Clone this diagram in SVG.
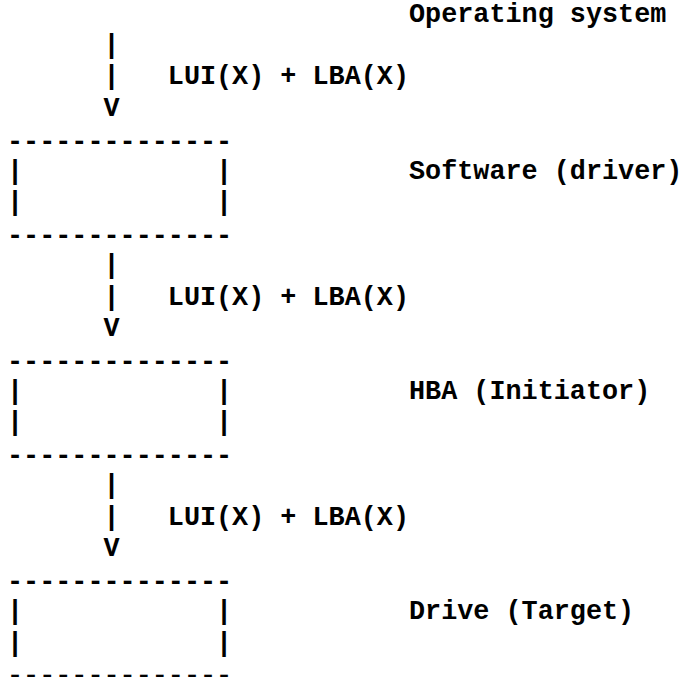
<svg xmlns="http://www.w3.org/2000/svg" width="681" height="677" viewBox="0 0 681 677">
<style>
text{font-family:"Liberation Mono","Courier New",monospace;font-weight:bold;font-size:26.8px;fill:#000;white-space:pre}
</style>
<rect width="681" height="677" fill="#fff"/>
<g id="os">
<text x="409" y="21.5">Operating system</text>
</g>
<g id="driver">
<text x="7" y="149.5">--------------</text>
<text x="7" y="178.75">|</text><text x="216.04" y="178.75">|</text>
<text x="7" y="210.2">|</text><text x="216.04" y="210.2">|</text>
<text x="7" y="244">--------------</text>
<text x="409" y="178.75">Software (driver)</text>
</g>
<g id="hba">
<text x="7" y="369.8">--------------</text>
<text x="7" y="398.9">|</text><text x="216.04" y="398.9">|</text>
<text x="7" y="430.35">|</text><text x="216.04" y="430.35">|</text>
<text x="7" y="464">--------------</text>
<text x="409" y="398.9">HBA (Initiator)</text>
</g>
<g id="drive">
<text x="7" y="590">--------------</text>
<text x="7" y="619.05">|</text><text x="216.04" y="619.05">|</text>
<text x="7" y="650.5">|</text><text x="216.04" y="650.5">|</text>
<text x="7" y="683.5">--------------</text>
<text x="409" y="619.05">Drive (Target)</text>
</g>
<g id="connectors">
<text x="103.48" y="52.95">|</text>
<text x="103.48" y="84.4">|</text>
<text x="167.8" y="84.4">LUI(X) + LBA(X)</text>
<text x="103.48" y="115.85">V</text>
<text x="103.48" y="273.1">|</text>
<text x="103.48" y="304.55">|</text>
<text x="167.8" y="304.55">LUI(X) + LBA(X)</text>
<text x="103.48" y="336">V</text>
<text x="103.48" y="493.25">|</text>
<text x="103.48" y="524.7">|</text>
<text x="167.8" y="524.7">LUI(X) + LBA(X)</text>
<text x="103.48" y="556.15">V</text>
</g>
</svg>
